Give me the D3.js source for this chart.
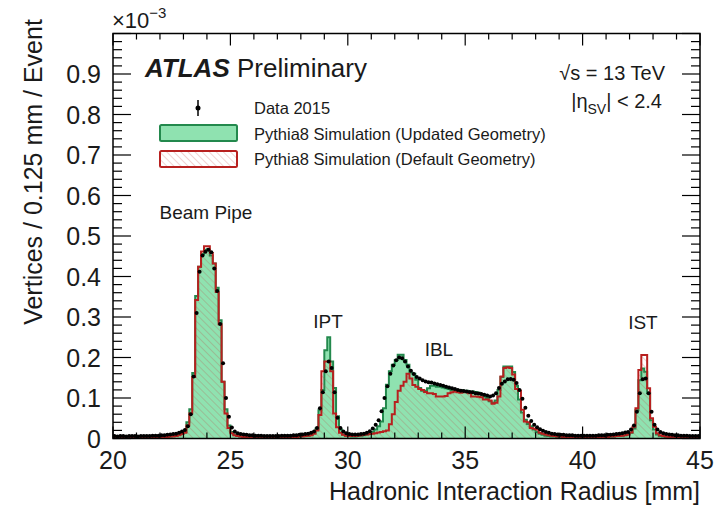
<!DOCTYPE html>
<html>
<head>
<meta charset="utf-8">
<script src="https://cdn.jsdelivr.net/npm/d3@7"></script>
<style>
  body { margin: 0; background: #fff; }
  text { font-family: "Liberation Sans", Arial, Helvetica, sans-serif; fill: #1a1a1a; }
</style>
</head>
<body>
<div id="chart"></div>
<script>
// binning of the histograms (mm)
const binLow = 20;
const binWidth = 0.125;

// Data 2015, vertices / 0.125 mm / event (x1e-3), 200 bins from 20 to 45 mm
const dataValues = [
  0.006, 0.005, 0.006, 0.006, 0.005, 0.006, 0.006, 0.006, 0.005, 0.006,
  0.006, 0.006, 0.006, 0.007, 0.007, 0.007, 0.008, 0.008, 0.009, 0.010,
  0.011, 0.012, 0.014, 0.017, 0.021, 0.030, 0.060, 0.153, 0.310, 0.412,
  0.452, 0.461, 0.466, 0.460, 0.420, 0.364, 0.283, 0.186, 0.100, 0.054,
  0.027, 0.017, 0.013, 0.011, 0.010, 0.009, 0.008, 0.008, 0.007, 0.007,
  0.007, 0.006, 0.006, 0.006, 0.006, 0.006, 0.006, 0.007, 0.007, 0.007,
  0.007, 0.008, 0.008, 0.009, 0.010, 0.011, 0.012, 0.014, 0.017, 0.026,
  0.075, 0.114, 0.166, 0.190, 0.174, 0.114, 0.051, 0.026, 0.017, 0.013,
  0.011, 0.010, 0.010, 0.010, 0.011, 0.012, 0.014, 0.018, 0.025, 0.034,
  0.045, 0.067, 0.100, 0.129, 0.160, 0.180, 0.193, 0.200, 0.198, 0.190,
  0.178, 0.167, 0.159, 0.152, 0.148, 0.144, 0.141, 0.139, 0.138, 0.136,
  0.134, 0.132, 0.130, 0.128, 0.126, 0.124, 0.122, 0.120, 0.118, 0.117,
  0.116, 0.115, 0.114, 0.112, 0.111, 0.110, 0.108, 0.106, 0.104, 0.106,
  0.112, 0.125, 0.135, 0.141, 0.146, 0.147, 0.145, 0.137, 0.120, 0.098,
  0.076, 0.056, 0.043, 0.034, 0.028, 0.023, 0.019, 0.016, 0.014, 0.012,
  0.011, 0.010, 0.009, 0.009, 0.008, 0.008, 0.008, 0.007, 0.007, 0.007,
  0.007, 0.007, 0.007, 0.007, 0.007, 0.008, 0.008, 0.008, 0.009, 0.009,
  0.010, 0.011, 0.012, 0.013, 0.015, 0.016, 0.022, 0.032, 0.066, 0.112,
  0.146, 0.148, 0.112, 0.066, 0.034, 0.022, 0.016, 0.013, 0.011, 0.010,
  0.009, 0.008, 0.008, 0.007, 0.007, 0.007, 0.006, 0.006, 0.006, 0.006
];

// Pythia8 Simulation (Updated Geometry)
const updatedGeom = [
  0.003, 0.002, 0.003, 0.003, 0.002, 0.003, 0.003, 0.003, 0.003, 0.003,
  0.003, 0.003, 0.003, 0.004, 0.003, 0.004, 0.004, 0.004, 0.005, 0.005,
  0.006, 0.007, 0.009, 0.012, 0.016, 0.040, 0.072, 0.162, 0.352, 0.424,
  0.455, 0.466, 0.467, 0.452, 0.432, 0.372, 0.292, 0.140, 0.072, 0.032,
  0.016, 0.010, 0.007, 0.005, 0.005, 0.004, 0.004, 0.004, 0.004, 0.004,
  0.003, 0.003, 0.003, 0.003, 0.003, 0.003, 0.003, 0.004, 0.004, 0.004,
  0.004, 0.004, 0.005, 0.005, 0.006, 0.006, 0.007, 0.009, 0.014, 0.025,
  0.070, 0.120, 0.218, 0.250, 0.190, 0.125, 0.055, 0.022, 0.010, 0.007,
  0.006, 0.005, 0.005, 0.006, 0.007, 0.008, 0.010, 0.012, 0.016, 0.022,
  0.030, 0.042, 0.075, 0.133, 0.166, 0.182, 0.194, 0.207, 0.207, 0.194,
  0.182, 0.163, 0.160, 0.145, 0.125, 0.118, 0.118, 0.124, 0.130, 0.130,
  0.128, 0.128, 0.126, 0.124, 0.122, 0.120, 0.121, 0.119, 0.120, 0.118,
  0.118, 0.116, 0.116, 0.115, 0.113, 0.110, 0.104, 0.100, 0.092, 0.088,
  0.094, 0.120, 0.152, 0.178, 0.178, 0.178, 0.164, 0.130, 0.096, 0.064,
  0.046, 0.036, 0.030, 0.022, 0.016, 0.012, 0.009, 0.007, 0.006, 0.005,
  0.005, 0.004, 0.004, 0.004, 0.004, 0.004, 0.003, 0.003, 0.003, 0.003,
  0.003, 0.003, 0.003, 0.003, 0.004, 0.004, 0.004, 0.004, 0.005, 0.005,
  0.005, 0.006, 0.006, 0.007, 0.008, 0.010, 0.014, 0.025, 0.070, 0.144,
  0.173, 0.165, 0.112, 0.045, 0.022, 0.010, 0.006, 0.005, 0.004, 0.004,
  0.004, 0.003, 0.003, 0.003, 0.003, 0.003, 0.003, 0.003, 0.003, 0.003
];

// Pythia8 Simulation (Default Geometry)
const defaultGeom = [
  0.003, 0.002, 0.003, 0.003, 0.002, 0.003, 0.003, 0.003, 0.003, 0.003,
  0.003, 0.003, 0.003, 0.003, 0.003, 0.004, 0.004, 0.004, 0.004, 0.005,
  0.005, 0.006, 0.008, 0.011, 0.014, 0.032, 0.062, 0.152, 0.342, 0.424,
  0.462, 0.475, 0.475, 0.458, 0.432, 0.362, 0.282, 0.140, 0.062, 0.026,
  0.013, 0.008, 0.006, 0.005, 0.004, 0.004, 0.004, 0.004, 0.004, 0.003,
  0.003, 0.003, 0.003, 0.003, 0.003, 0.003, 0.003, 0.003, 0.004, 0.004,
  0.004, 0.004, 0.004, 0.005, 0.005, 0.006, 0.007, 0.008, 0.012, 0.020,
  0.058, 0.166, 0.190, 0.190, 0.166, 0.062, 0.028, 0.014, 0.009, 0.007,
  0.006, 0.006, 0.006, 0.007, 0.008, 0.009, 0.010, 0.011, 0.012, 0.013,
  0.015, 0.016, 0.018, 0.020, 0.035, 0.060, 0.090, 0.118, 0.130, 0.140,
  0.160, 0.148, 0.132, 0.128, 0.122, 0.120, 0.115, 0.112, 0.112, 0.110,
  0.104, 0.104, 0.104, 0.105, 0.112, 0.114, 0.116, 0.114, 0.113, 0.114,
  0.114, 0.112, 0.104, 0.104, 0.103, 0.102, 0.096, 0.096, 0.094, 0.086,
  0.088, 0.104, 0.153, 0.174, 0.176, 0.174, 0.158, 0.122, 0.118, 0.071,
  0.042, 0.040, 0.026, 0.024, 0.022, 0.014, 0.012, 0.010, 0.008, 0.007,
  0.006, 0.005, 0.005, 0.004, 0.004, 0.004, 0.004, 0.003, 0.003, 0.003,
  0.003, 0.003, 0.003, 0.003, 0.004, 0.004, 0.004, 0.004, 0.004, 0.005,
  0.005, 0.006, 0.006, 0.007, 0.008, 0.010, 0.015, 0.029, 0.075, 0.169,
  0.206, 0.206, 0.124, 0.050, 0.029, 0.013, 0.008, 0.006, 0.005, 0.004,
  0.004, 0.003, 0.003, 0.003, 0.003, 0.003, 0.003, 0.003, 0.003, 0.003
];

const xTicks = [20, 25, 30, 35, 40, 45];
const yTicks = [0, 0.1, 0.2, 0.3, 0.4, 0.5, 0.6, 0.7, 0.8, 0.9];
const yTickLabels = ['0', '0.1', '0.2', '0.3', '0.4', '0.5', '0.6', '0.7', '0.8', '0.9'];
const peakNames = ['Beam Pipe', 'IPT', 'IBL', 'IST'];
const legendNames = ['Data 2015', 'Pythia8 Simulation (Updated Geometry)', 'Pythia8 Simulation (Default Geometry)'];

const margin = { top: 33.5, right: 24, bottom: 70.5, left: 113 },
  width = 724 - margin.left - margin.right,
  height = 509 - margin.top - margin.bottom;

const svgRoot = d3.select('#chart')
  .append('svg')
  .attr('width', 724)
  .attr('height', 509);

const defs = svgRoot.append('defs');
defs.append('pattern')
  .attr('id', 'hatch')
  .attr('patternUnits', 'userSpaceOnUse')
  .attr('width', 5)
  .attr('height', 5)
  .attr('patternTransform', 'rotate(-45)')
  .append('line')
  .attr('x1', 0).attr('y1', 0).attr('x2', 0).attr('y2', 5)
  .attr('stroke', 'rgba(190,60,60,0.38)')
  .attr('stroke-width', 1.2);
defs.append('clipPath')
  .attr('id', 'plotclip')
  .append('rect')
  .attr('width', width)
  .attr('height', height);

const svg = svgRoot.append('g')
  .attr('transform', 'translate(' + margin.left + ',' + margin.top + ')');

const x = d3.scaleLinear().domain([20, 45]).range([0, width]);
const y = d3.scaleLinear().domain([0, 1.0]).range([height, 0]);

function histPoints(values) {
  const pts = values.map(function (v, i) { return [binLow + i * binWidth, v]; });
  pts.push([binLow + values.length * binWidth, values[values.length - 1]]);
  return pts;
}

const area = d3.area()
  .x(function (d) { return x(d[0]); })
  .y0(y(0))
  .y1(function (d) { return y(d[1]); })
  .curve(d3.curveStepAfter);
const line = d3.line()
  .x(function (d) { return x(d[0]); })
  .y(function (d) { return y(d[1]); })
  .curve(d3.curveStepAfter);

const plot = svg.append('g').attr('clip-path', 'url(#plotclip)');

// updated geometry: green filled
plot.append('path')
  .attr('d', area(histPoints(updatedGeom)))
  .attr('fill', '#8fe2b0');
plot.append('path')
  .attr('d', line(histPoints(updatedGeom)))
  .attr('fill', 'none')
  .attr('stroke', '#23894d')
  .attr('stroke-width', 2);

// default geometry: red hatched
plot.append('path')
  .attr('d', area(histPoints(defaultGeom)))
  .attr('fill', 'url(#hatch)');
plot.append('path')
  .attr('d', line(histPoints(defaultGeom)))
  .attr('fill', 'none')
  .attr('stroke', '#b8201f')
  .attr('stroke-width', 2);

// data points
plot.append('g')
  .selectAll('circle')
  .data(dataValues)
  .enter()
  .append('circle')
  .attr('cx', function (d, i) { return x(binLow + (i + 0.5) * binWidth); })
  .attr('cy', function (d) { return y(d); })
  .attr('r', 2)
  .attr('fill', '#000');

// frame and ticks
svg.append('rect')
  .attr('width', width)
  .attr('height', height)
  .attr('fill', 'none')
  .attr('stroke', '#000')
  .attr('stroke-width', 1.5);

const xMinor = d3.range(20, 45.01, 1);
const yMinor = d3.range(0, 1.001, 0.02);
const ticks = svg.append('g').attr('stroke', '#000').attr('stroke-width', 1.2);
xMinor.forEach(function (v) {
  const len = (v % 5 === 0) ? 12 : 6;
  ticks.append('line').attr('x1', x(v)).attr('x2', x(v)).attr('y1', height).attr('y2', height - len);
  ticks.append('line').attr('x1', x(v)).attr('x2', x(v)).attr('y1', 0).attr('y2', len);
});
yMinor.forEach(function (v, i) {
  const len = (i % 5 === 0) ? 18 : 9;
  ticks.append('line').attr('x1', 0).attr('x2', len).attr('y1', y(v)).attr('y2', y(v));
  ticks.append('line').attr('x1', width).attr('x2', width - len).attr('y1', y(v)).attr('y2', y(v));
});

// tick labels
svg.append('g')
  .selectAll('text')
  .data(xTicks)
  .enter()
  .append('text')
  .attr('x', function (d) { return x(d); })
  .attr('y', height + 30)
  .attr('text-anchor', 'middle')
  .style('font-size', '25px')
  .text(function (d) { return d; });

svg.append('g')
  .selectAll('text')
  .data(yTicks)
  .enter()
  .append('text')
  .attr('x', -12)
  .attr('y', function (d) { return y(d) + 9; })
  .attr('text-anchor', 'end')
  .style('font-size', '25px')
  .text(function (d, i) { return yTickLabels[i]; });

// axis titles
svgRoot.append('text')
  .attr('x', 700)
  .attr('y', 500)
  .attr('text-anchor', 'end')
  .style('font-size', '25px')
  .text('Hadronic Interaction Radius [mm]');

svgRoot.append('text')
  .attr('transform', 'translate(42,172) rotate(-90)')
  .attr('text-anchor', 'middle')
  .style('font-size', '25px')
  .text('Vertices / 0.125 mm / Event');

const expo = svgRoot.append('text')
  .attr('x', 112)
  .attr('y', 28)
  .style('font-size', '22px');
expo.append('tspan').text('×10');
expo.append('tspan').attr('dy', -10).style('font-size', '15px').text('−3');

// ATLAS label
const atlas = svgRoot.append('text')
  .attr('x', 145)
  .attr('y', 77)
  .style('font-size', '26px');
atlas.append('tspan').style('font-weight', 'bold').style('font-style', 'italic').text('ATLAS');
atlas.append('tspan').text(' Preliminary');

svgRoot.append('text')
  .attr('x', 665)
  .attr('y', 80)
  .attr('text-anchor', 'end')
  .style('font-size', '20px')
  .text('√s = 13 TeV');

const eta = svgRoot.append('text')
  .attr('x', 662)
  .attr('y', 108)
  .attr('text-anchor', 'end')
  .style('font-size', '20px');
eta.append('tspan').text('|η');
eta.append('tspan').attr('dy', 6).style('font-size', '14px').text('SV');
eta.append('tspan').attr('dy', -6).text('| < 2.4');

// legend
const legend = svgRoot.append('g');
legend.append('line')
  .attr('x1', 198).attr('x2', 198).attr('y1', 100).attr('y2', 116)
  .attr('stroke', '#000').attr('stroke-width', 1.5);
legend.append('circle')
  .attr('cx', 198).attr('cy', 108).attr('r', 2.5).attr('fill', '#000');
legend.append('rect')
  .attr('x', 160).attr('y', 125).attr('width', 77).attr('height', 16).attr('rx', 1.5)
  .attr('fill', '#8fe2b0').attr('stroke', '#23894d').attr('stroke-width', 2);
legend.append('rect')
  .attr('x', 160).attr('y', 151).attr('width', 77).attr('height', 16).attr('rx', 1.5)
  .attr('fill', 'url(#hatch)').attr('stroke', '#b8201f').attr('stroke-width', 2);
legend.selectAll('text.leg')
  .data(legendNames)
  .enter()
  .append('text')
  .attr('class', 'leg')
  .attr('x', 254)
  .attr('y', function (d, i) { return 114 + i * 25.5; })
  .style('font-size', '16.5px')
  .text(function (d) { return d; });

// peak annotations
const peakX = [23.96, 29.16, 33.88, 42.57];
const peakY = [0.542, 0.273, 0.204, 0.27];
svg.append('g')
  .selectAll('text')
  .data(peakNames)
  .enter()
  .append('text')
  .attr('x', function (d, i) { return x(peakX[i]); })
  .attr('y', function (d, i) { return y(peakY[i]); })
  .attr('text-anchor', 'middle')
  .style('font-size', '19px')
  .text(function (d) { return d; });
</script>
</body>
</html>
